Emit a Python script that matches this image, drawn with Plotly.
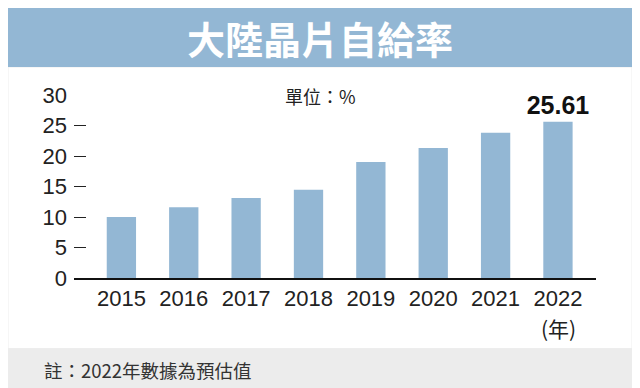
import plotly.graph_objects as go

years = ["2015", "2016", "2017", "2018", "2019", "2020", "2021", "2022"]
rates = [10.0, 11.6, 13.1, 14.45, 19.0, 21.3, 23.8, 25.61]
y_ticks = [0, 5, 10, 15, 20, 25, 30]
bar_labels = ["", "", "", "", "", "", "", "25.61"]

title_text = "大陸晶片自給率"
unit_text = "單位：%"
year_unit = "(年)"
note_text = "註：2022年數據為預估值"

OFF = 8                  # page body margin offset
W, H = 640 - OFF, 388 - OFF
L, R = 74 - OFF, 596 - OFF          # plot area (figure px)
T, B = 95.0 - OFF, 278.3 - OFF


def px(xp):  # page px -> paper
    return (xp - OFF - L) / (R - L)


def py(yp):
    return (B - (yp - OFF)) / (B - T)


CJK = "Noto Sans CJK TC, Liberation Sans, Arial, sans-serif"
NUM = "Liberation Sans, Arial, sans-serif"
BAR = "#93b7d4"

fig = go.Figure()
fig.add_trace(go.Bar(
    x=years, y=rates, marker=dict(color=BAR, line=dict(width=0)),
    width=0.47, hoverinfo="skip",
    text=[f"<b>{t}</b>" if t else "" for t in bar_labels],
    textposition="outside", constraintext="none", cliponaxis=False,
    textfont=dict(family=NUM, size=25, color="#111111"),
))

shapes = [
    dict(type="rect", xref="paper", yref="paper", x0=px(8), x1=px(632), y0=py(349), y1=py(67),
         fillcolor="white", line=dict(color="#eeeeee", width=1), layer="below"),
    dict(type="rect", xref="paper", yref="paper", x0=px(8), x1=px(632), y0=py(392), y1=py(349),
         fillcolor="#ececec", line=dict(width=0), layer="below"),
    dict(type="rect", xref="paper", yref="paper", x0=px(8), x1=px(632), y0=py(67), y1=py(7),
         fillcolor=BAR, line=dict(width=0), layer="below"),
]

annotations = [
    dict(text=f"<b>{title_text}</b>", xref="paper", yref="paper", x=px(320), y=py(37),
         showarrow=False, font=dict(family=CJK, size=38, color="white"), xanchor="center", yanchor="middle"),
    dict(text=unit_text, xref="paper", yref="paper", x=px(320), y=py(96),
         showarrow=False, font=dict(family=CJK, size=18, color="#222222"), xanchor="center", yanchor="middle"),
    dict(text=year_unit, xref="paper", yref="paper", x=px(558), y=py(328),
         showarrow=False, font=dict(family=CJK, size=21, color="#222222"), xanchor="center", yanchor="middle"),
    dict(text=note_text, xref="paper", yref="paper", x=px(42), y=py(370),
         showarrow=False, font=dict(family=CJK, size=18.5, color="#333333"), xanchor="left", yanchor="middle"),
]

fig.update_layout(
    width=W, height=H,
    margin=dict(l=L, r=W - R, t=T, b=H - B, pad=0),
    paper_bgcolor="white", plot_bgcolor="rgba(0,0,0,0)",
    showlegend=False,
    shapes=shapes, annotations=annotations,
)
fig.update_xaxes(
    type="category", range=[-0.76, 7.61], automargin=False,
    showline=True, linecolor="#111111", linewidth=1.5,
    ticks="", showgrid=False, zeroline=False,
    tickfont=dict(family=NUM, size=22, color="#222222"),
    ticklabelstandoff=0,
)
fig.update_yaxes(
    range=[0, 30], tickvals=y_ticks, automargin=False,
    showline=False, showgrid=False, zeroline=False,
    ticks="inside", ticklen=12, tickwidth=1.2, tickcolor="#222222",
    tickfont=dict(family=NUM, size=22, color="#222222"),
    ticklabelstandoff=6,
)

fig.write_html("out.html")
